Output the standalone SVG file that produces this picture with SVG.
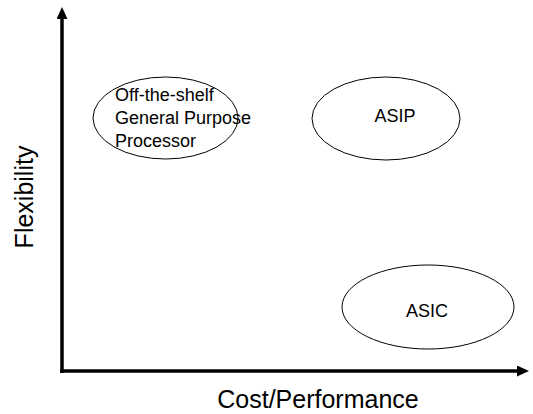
<svg xmlns="http://www.w3.org/2000/svg" width="533" height="414" viewBox="0 0 533 414">
  <style>
    .node ellipse { fill: #ffffff; stroke: #000000; stroke-width: 1; }
    .label { font-family: "Liberation Sans", Arial, sans-serif; font-size: 18px; fill: #000000; }
    .axis-label { font-family: "Liberation Sans", Arial, sans-serif; font-size: 25px; fill: #000000; }
    .axis { stroke: #000000; stroke-width: 3.5; fill: none; }
  </style>
  <defs>
    <marker id="arrow" viewBox="0 0 12 11" refX="0" refY="5.5" markerWidth="12" markerHeight="11" markerUnits="userSpaceOnUse" orient="auto">
      <path d="M0,0 L12,5.5 L0,11 Z" fill="#000000"/>
    </marker>
  </defs>
  <rect width="533" height="414" fill="#ffffff"/>

  <!-- axes -->
  <g id="connectors">
    <path class="axis" d="M62,373 L62,19" marker-end="url(#arrow)"/>
    <path class="axis" d="M60.25,371 L517,371" marker-end="url(#arrow)"/>
  </g>

  <g id="gpp" class="node">
    <ellipse cx="165.5" cy="118" rx="72.5" ry="41"/>
    <text class="label" x="115" y="101">Off-the-shelf</text>
    <text class="label" x="115" y="123.5">General Purpose</text>
    <text class="label" x="115" y="146.5">Processor</text>
  </g>

  <g id="asip" class="node">
    <ellipse cx="386" cy="118.5" rx="74" ry="41.5"/>
    <text class="label" x="395" y="122" text-anchor="middle">ASIP</text>
  </g>

  <g id="asic" class="node">
    <ellipse cx="428" cy="307" rx="86" ry="42"/>
    <text class="label" x="427" y="317" text-anchor="middle">ASIC</text>
  </g>

  <g id="axis-labels">
    <text class="axis-label" x="318" y="408" text-anchor="middle">Cost/Performance</text>
    <text class="axis-label" transform="translate(33,197) rotate(-90)" text-anchor="middle">Flexibility</text>
  </g>
</svg>
